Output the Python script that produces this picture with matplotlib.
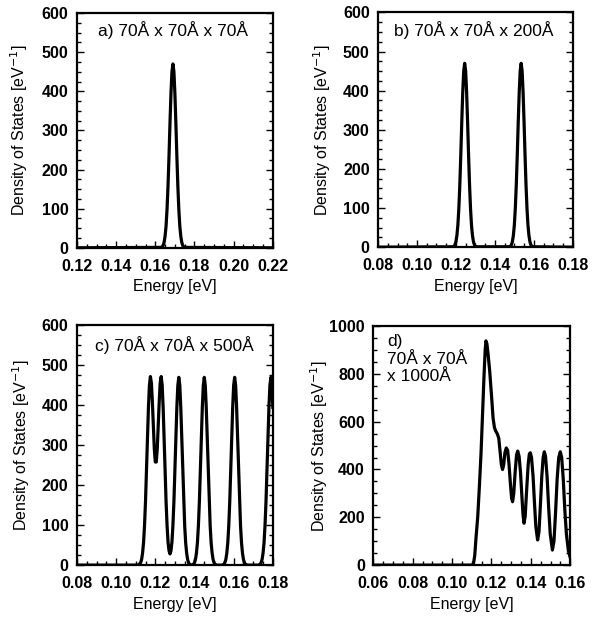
"""Density of states of quantum boxes of growing length (four panels)."""

import numpy as np
import matplotlib

matplotlib.use("Agg")
import matplotlib.pyplot as plt
from matplotlib.ticker import MultipleLocator

plt.rcParams["font.family"] = ["Liberation Sans", "DejaVu Sans"]
plt.rcParams["font.size"] = 11

# ---- panel a: 70 x 70 x 70 A, one level ----
energy_a = [0.120, 0.163, 0.1635, 0.164, 0.1645, 0.165, 0.1655, 0.166, 0.1665,
            0.167, 0.1675, 0.168, 0.1685, 0.169, 0.1695, 0.170, 0.1705, 0.171,
            0.1715, 0.172, 0.1725, 0.173, 0.1735, 0.174, 0.1745, 0.175, 0.220]
dos_a = [0, 1, 2, 6, 14, 30, 56, 99, 159, 235, 319, 395, 450, 470, 450, 395,
         319, 235, 159, 99, 56, 30, 14, 6, 2, 1, 0]

# ---- panel b: 70 x 70 x 200 A, two levels ----
energy_b = [0.080, 0.1185, 0.119, 0.1195, 0.120, 0.1205, 0.121, 0.1215, 0.122,
            0.1225, 0.123, 0.1235, 0.124, 0.1245, 0.125, 0.1255, 0.126, 0.1265,
            0.127, 0.1275, 0.128, 0.1285, 0.129, 0.1295, 0.130, 0.1305,
            0.1475, 0.148, 0.1485, 0.149, 0.1495, 0.150, 0.1505, 0.151, 0.1515,
            0.152, 0.1525, 0.153, 0.1535, 0.154, 0.1545, 0.155, 0.1555, 0.156,
            0.1565, 0.157, 0.1575, 0.158, 0.1585, 0.159, 0.1595, 0.180]
dos_b = [0, 1, 2, 6, 14, 30, 56, 99, 159, 235, 319, 395, 450, 470, 450, 395,
         319, 235, 159, 99, 56, 30, 14, 6, 2, 1,
         1, 2, 6, 14, 30, 56, 99, 159, 235, 319, 395, 450, 470, 450, 395,
         319, 235, 159, 99, 56, 30, 14, 6, 2, 1, 0]

# ---- panel c: 70 x 70 x 500 A, six levels (sampled every 0.5 meV from 0.110 eV) ----
energy_c_start, energy_c_step = 0.110, 0.0005
dos_c = [0, 0, 0, 1, 3, 6, 14, 30, 56, 99, 159, 235, 319, 395, 450, 472,
         456, 409, 349, 291, 258, 258, 291, 349, 409, 456, 472, 451, 395, 319,
         235, 159, 100, 58, 36, 28, 36, 58, 100, 159, 235, 319, 395, 450, 470,
         450, 395, 319, 235, 159, 99, 56, 30, 14, 6, 2, 1, 0, 1, 2,
         6, 14, 30, 56, 99, 159, 235, 319, 395, 450, 470, 450, 395, 319, 235,
         159, 99, 56, 30, 14, 6, 2, 1, 0, 0, 0, 0, 0, 0, 1,
         2, 6, 14, 30, 56, 99, 159, 235, 319, 395, 450, 470, 450, 395, 319,
         235, 159, 99, 56, 30, 14, 6, 2, 1, 0, 0, 0, 0, 0, 0,
         0, 0, 0, 0, 0, 0, 1, 2, 6, 14, 30, 56, 99, 159, 235,
         319, 395, 450, 470, 450, 395]
energy_c = [0.080] + [round(energy_c_start + k * energy_c_step, 4) for k in range(len(dos_c))]
dos_c = [0] + dos_c

# ---- panel d: 70 x 70 x 1000 A, dense levels ----
energy_d = [0.060, 0.110, 0.1108, 0.1115, 0.1122, 0.1130, 0.1138, 0.1147, 0.1155,
            0.1162, 0.1168, 0.1172, 0.1177, 0.1183, 0.1191, 0.1200, 0.1208,
            0.1215, 0.1222, 0.1230, 0.1237, 0.1243, 0.1250, 0.1256, 0.1262,
            0.1268, 0.1275, 0.1282, 0.1289, 0.1296, 0.1302, 0.1307, 0.1313,
            0.1320, 0.1327, 0.1333, 0.1340, 0.1347, 0.1354, 0.1360, 0.1365,
            0.1371, 0.1378, 0.1386, 0.1392, 0.1397, 0.1403, 0.1411, 0.1418,
            0.1425, 0.1434, 0.1441, 0.1448, 0.1455, 0.1462, 0.1468, 0.1474,
            0.1482, 0.1490, 0.1498, 0.1509, 0.1517, 0.1525, 0.1533, 0.1541,
            0.1549, 0.1556, 0.1564, 0.1572, 0.1580, 0.1590, 0.1600]
dos_d = [0, 0, 3, 40, 120, 200, 320, 470, 640, 790, 900, 938, 925, 880, 810,
         710, 615, 575, 560, 548, 530, 480, 420, 400, 420, 470, 490, 480, 420,
         340, 280, 265, 300, 390, 460, 477, 455, 390, 290, 210, 175, 205, 310,
         420, 465, 470, 450, 370, 260, 160, 105, 140, 250, 370, 450, 474, 455,
         370, 240, 130, 63, 100, 220, 360, 450, 474, 450, 360, 230, 130, 60, 30]

panels = [
    # energy, dos, axes rect, xlim, ylim, y major, y minor, label, label pos, ylabel x
    (energy_a, dos_a, [0.128, 0.601, 0.326, 0.378], (0.12, 0.22), (0, 600), 100, 25,
     "a) 70Å x 70Å x 70Å", (0.11, 0.965), -0.24),
    (energy_b, dos_b, [0.629, 0.602, 0.324, 0.378], (0.08, 0.18), (0, 600), 100, 25,
     "b) 70Å x 70Å x 200Å", (0.08, 0.965), -0.231),
    (energy_c, dos_c, [0.128, 0.090, 0.326, 0.386], (0.08, 0.18), (0, 600), 100, 25,
     "c) 70Å x 70Å x 500Å", (0.09, 0.955), -0.23),
    (energy_d, dos_d, [0.621, 0.090, 0.328, 0.385], (0.06, 0.16), (0, 1000), 200, 50,
     "d)\n70Å x 70Å\nx 1000Å", (0.07, 0.965), -0.218),
]

fig = plt.figure(figsize=(6.01, 6.21), dpi=100)

for energy, dos, rect, xlim, ylim, ymaj, ymin, label, lpos, ylab_x in panels:
    ax = fig.add_axes(rect)
    ax.plot(energy, dos, color="black", lw=2.3, solid_joinstyle="round")
    ax.set_xlim(*xlim)
    ax.set_ylim(*ylim)
    ax.xaxis.set_major_locator(MultipleLocator(0.02))
    ax.xaxis.set_minor_locator(MultipleLocator(0.005))
    ax.yaxis.set_major_locator(MultipleLocator(ymaj))
    ax.yaxis.set_minor_locator(MultipleLocator(ymin))
    ax.xaxis.set_major_formatter(plt.FormatStrFormatter("%.2f"))
    ax.tick_params(which="both", direction="in", right=True, width=1.0)
    ax.tick_params(which="major", length=5, labelsize=11.5)
    ax.tick_params(axis="x", which="major", pad=8)
    ax.tick_params(axis="y", which="major", pad=6)
    ax.tick_params(which="minor", length=3)
    for lab in ax.get_xticklabels() + ax.get_yticklabels():
        lab.set_fontweight("bold")
    for s in ax.spines.values():
        s.set_linewidth(1.6)
    ax.set_xlabel("Energy [eV]", fontsize=11.5, labelpad=4)
    ax.set_ylabel("Density of States [eV$^{-1}$]", fontsize=11.5)
    ax.yaxis.set_label_coords(ylab_x, 0.5)
    ax.text(lpos[0], lpos[1], label, transform=ax.transAxes, ha="left", va="top",
            fontsize=12.5, linespacing=1.2)

fig.savefig("out.png", dpi=100)
